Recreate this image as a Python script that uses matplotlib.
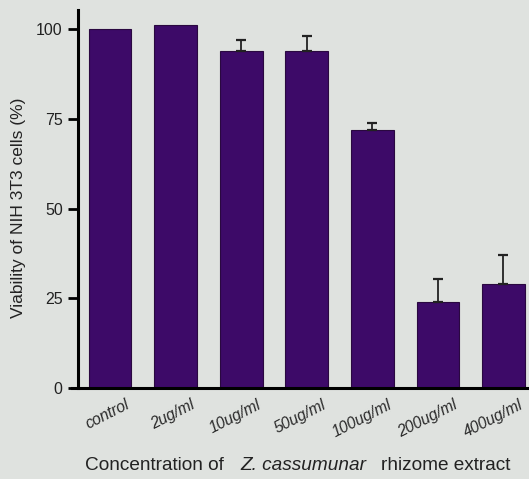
import matplotlib
matplotlib.use("Agg")
import matplotlib.pyplot as plt
from matplotlib.transforms import ScaledTranslation, blended_transform_factory

categories = ["control", "2ug/ml", "10ug/ml", "50ug/ml", "100ug/ml", "200ug/ml", "400ug/ml"]
values = [100, 101, 94, 94, 72, 24, 29]
errors = [0, 0, 3, 4, 1.7, 6.5, 8]
yticks = [0, 25, 50, 75, 100]

bg = "#dfe2df"
bar_color = "#3d0a68"

W, H = 529, 479
plt.rcParams['font.family'] = ['Liberation Sans', 'DejaVu Sans']
fig = plt.figure(figsize=(W/100, H/100), dpi=100, facecolor=bg)
ax = fig.add_axes([78/W, (H-388)/H, 1 - 78/W, (388-10)/H])
ax.set_facecolor(bg)

x = list(range(len(categories)))
ax.bar(x, values, width=0.65, color=bar_color, edgecolor="#2a0840", linewidth=0.8, zorder=2)
for xi, v, e in zip(x, values, errors):
    if e > 0:
        ax.errorbar([xi], [v], yerr=[[0], [e]], fmt='none', ecolor="#222222",
                    elinewidth=1.3, capsize=3.5, capthick=1.6, zorder=3)

ax.set_xlim(-0.49, 6.39)
ax.set_ylim(0, 105.3)
ax.set_yticks(yticks)
ax.set_yticklabels([str(t) for t in yticks], fontsize=11.5, color="#222222")
ax.set_xticks(x)
ax.set_xticklabels([])
ax.tick_params(axis='y', direction='out', length=7, width=2, pad=4)
ax.tick_params(axis='x', length=0)

trans = blended_transform_factory(ax.transData, ax.transAxes) + \
    ScaledTranslation(22/100, -9/100, fig.dpi_scale_trans)
for xi, lab in zip(x, categories):
    ax.text(xi, 0, lab, transform=trans, rotation=27, ha='right', va='top',
            fontsize=11.3, style='italic', color="#2a2a2a", clip_on=False)

for s in ['top', 'right']:
    ax.spines[s].set_visible(False)
ax.spines['left'].set_linewidth(2.2)
ax.spines['bottom'].set_linewidth(2.2)
ax.spines['bottom'].set_bounds(-0.58, 6.39)

fig.text(19/W, 1 - 208/H, "Viability of NIH 3T3 cells (%)", rotation=90, ha='center', va='center',
         fontsize=12.5, color="#222222")

yl = 1 - 466/H
fig.text(85/W, yl, "Concentration of", ha='left', va='center', fontsize=13.7, color="#222222")
fig.text(240/W, yl, "Z. cassumunar", ha='left', va='center', fontsize=13.7, color="#222222", style='italic')
fig.text(381/W, yl, "rhizome extract", ha='left', va='center', fontsize=13.7, color="#222222")

fig.savefig("out.png", dpi=100, facecolor=bg)
